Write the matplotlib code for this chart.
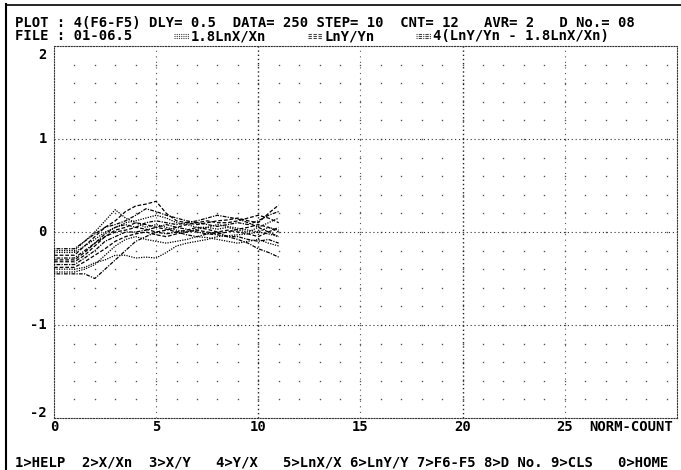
import numpy as np
import matplotlib
matplotlib.use("Agg")
from matplotlib import pyplot as plt
from matplotlib.lines import Line2D

# sample positions (norm-count) and the 12 traces
x = [0, 0.5, 1, 1.5, 2, 2.5, 3, 3.5, 4, 4.5, 5, 5.5, 6, 6.5, 7, 7.5, 8, 8.5, 9, 9.5, 10, 10.5, 11]

c1 = [-0.20, -0.20, -0.20, -0.10, 0.00, 0.12, 0.24, 0.15, 0.10, 0.05, 0.08, 0.05, 0.02, 0.00, 0.03, 0.05, 0.03, 0.05, 0.02, 0.00, 0.05, 0.10, 0.15]
c2 = [-0.25, -0.25, -0.25, -0.15, -0.05, 0.05, 0.12, 0.22, 0.28, 0.30, 0.33, 0.20, 0.12, 0.10, 0.08, 0.10, 0.12, 0.13, 0.15, 0.12, 0.10, 0.20, 0.29]
c3 = [-0.45, -0.45, -0.45, -0.45, -0.50, -0.40, -0.30, -0.20, -0.10, -0.05, 0.00, -0.02, 0.00, -0.03, -0.05, -0.02, 0.00, -0.05, -0.08, -0.12, -0.18, -0.22, -0.27]
c4 = [-0.40, -0.40, -0.40, -0.38, -0.33, -0.30, -0.25, -0.25, -0.28, -0.27, -0.28, -0.22, -0.15, -0.12, -0.10, -0.08, -0.05, -0.04, -0.03, -0.02, 0.00, -0.02, -0.05]
c5 = [-0.30, -0.30, -0.30, -0.22, -0.12, -0.05, 0.00, 0.02, 0.05, 0.03, 0.00, 0.02, 0.05, 0.08, 0.10, 0.12, 0.10, 0.10, 0.12, 0.15, 0.18, 0.15, 0.10]
c6 = [-0.35, -0.35, -0.35, -0.28, -0.20, -0.10, -0.05, 0.00, 0.00, 0.02, 0.05, 0.08, 0.05, 0.03, 0.00, -0.02, -0.03, -0.05, -0.05, -0.08, -0.10, -0.08, -0.12]
c7 = [-0.22, -0.22, -0.22, -0.15, -0.08, 0.00, 0.05, 0.10, 0.12, 0.15, 0.18, 0.15, 0.10, 0.08, 0.05, 0.05, 0.08, 0.06, 0.04, 0.02, 0.00, 0.05, 0.02]
c8 = [-0.38, -0.38, -0.38, -0.32, -0.25, -0.18, -0.10, -0.05, -0.02, 0.00, -0.03, -0.05, -0.02, 0.00, 0.02, 0.00, -0.02, 0.00, 0.03, 0.05, 0.08, 0.05, 0.00]
c9 = [-0.28, -0.28, -0.28, -0.20, -0.12, -0.02, 0.05, 0.08, 0.05, 0.10, 0.12, 0.10, 0.08, 0.10, 0.12, 0.15, 0.18, 0.16, 0.14, 0.10, 0.05, 0.00, -0.05]
c10 = [-0.43, -0.43, -0.43, -0.40, -0.35, -0.25, -0.15, -0.08, -0.05, -0.08, -0.10, -0.12, -0.10, -0.08, -0.05, -0.06, -0.08, -0.10, -0.12, -0.10, -0.08, -0.12, -0.15]
c11 = [-0.32, -0.32, -0.32, -0.25, -0.15, -0.05, 0.02, 0.05, 0.10, 0.08, 0.05, 0.03, 0.00, 0.02, 0.05, 0.03, 0.00, 0.02, 0.00, -0.02, -0.05, 0.00, 0.05]
c12 = [-0.18, -0.18, -0.18, -0.10, -0.02, 0.05, 0.08, 0.12, 0.18, 0.25, 0.22, 0.18, 0.15, 0.12, 0.10, 0.08, 0.06, 0.08, 0.10, 0.08, 0.12, 0.18, 0.22]

curves = [c1, c2, c3, c4, c5, c6, c7, c8, c9, c10, c11, c12]

xticks = [0, 5, 10, 15, 20, 25]
yticks = [2, 1, 0, -1, -2]

header1 = "PLOT : 4(F6-F5) DLY= 0.5  DATA= 250 STEP= 10  CNT= 12   AVR= 2   D No.= 08"
# (text, screen column)
header2 = [("FILE : 01-06.5", 0), ("1.8LnX/Xn", 21), ("LnY/Yn", 37), ("4(LnY/Yn - 1.8LnX/Xn)", 50)]
swatch_cols = [19, 35, 48]
menu = "1>HELP  2>X/Xn  3>X/Y   4>Y/X   5>LnX/X 6>LnY/Y 7>F6-F5 8>D No. 9>CLS   0>HOME"

W, H = 681, 470
COL0, PITCH = 15, 8.36  # screen is 80 columns wide

def fx(px):
    return px / W
def fy(py):
    return 1 - py / H

FONT = dict(family="DejaVu Sans Mono", fontweight="bold", fontsize=10, color="black")

fig = plt.figure(figsize=(W / 100, H / 100), dpi=100)
fig.patch.set_facecolor("white")

L, R, T, B = 54, 677, 46, 418
ax = fig.add_axes([fx(L), fy(B), (R - L) / W, (B - T) / H])
ax.set_xlim(0, 30.5)
ax.set_ylim(-2, 2)
for s in ax.spines.values():
    s.set_linestyle((0, (1, 1.5)))
    s.set_linewidth(0.8)
    s.set_color("#333333")
ax.set_xticks([])
ax.set_yticks([])

# background dot lattice
gx, gy = np.meshgrid(np.arange(1, 30.5, 1.0), np.arange(-1.8, 2.0, 0.2))
ax.plot(gx.ravel(), gy.ravel(), ls="none", marker="s", ms=1.0, mew=0, color="#555555", zorder=1)

# dotted reference lines
for yv in [1, 0, -1]:
    ax.axhline(yv, color="#333333", lw=0.8, ls=(0, (1, 2.5)), zorder=1)
for xv in [5, 15, 25]:
    ax.axvline(xv, color="#555555", lw=0.8, ls=(0, (1, 4)), zorder=1)
for xv in [10, 20]:
    ax.axvline(xv, color="#222222", lw=1.0, ls=(0, (1, 2)), zorder=1)

styles = [(0, (1, 1)), (0, (3, 1.5)), (0, (1, 1, 3, 1))]
for i, c in enumerate(curves):
    ax.plot(x, c, color="black", lw=0.9, ls=styles[i % 3], zorder=3)

# axis labels drawn as text, like the screen print
for t in xticks:
    ax.text(t, -2.02, str(t), ha="center", va="top", **FONT)
ax.text(30.3, -2.02, "NORM-COUNT", ha="right", va="top", **FONT)
ylab_pos = {2: 1.9, 1: 1, 0: 0, -1: -1, -2: -1.95}
for t in yticks:
    ax.text(-0.35, ylab_pos[t], str(t), ha="right", va="center", **FONT)

fig.text(fx(COL0), fy(23), header1, ha="left", va="center", **FONT)
for txt, col in header2:
    fig.text(fx(COL0 + col * PITCH), fy(36), txt, ha="left", va="center", **FONT)
fig.text(fx(COL0), fy(463), menu, ha="left", va="center", **FONT)

# legend swatches in the header
for col, st in zip(swatch_cols, styles):
    x0 = COL0 + col * PITCH
    for dy in (-2, 0, 2):
        fig.add_artist(Line2D([fx(x0), fx(x0 + 15)], [fy(36 + dy), fy(36 + dy)],
                              color="#444444", lw=0.8, ls=st))

# page edges from the scan
fig.add_artist(Line2D([fx(6), fx(6)], [0, fy(4)], color="black", lw=1.5))
fig.add_artist(Line2D([fx(6), 1], [fy(5), fy(5)], color="black", lw=1.2))

fig.savefig("out.png", dpi=100)
